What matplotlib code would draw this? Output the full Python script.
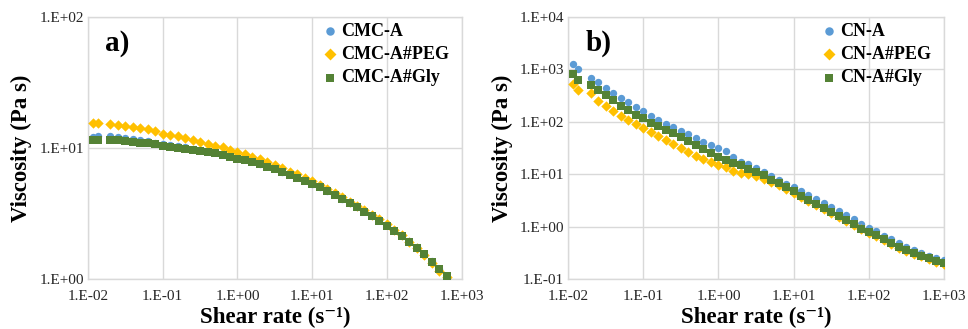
import numpy as np
import matplotlib
matplotlib.use("Agg")
import matplotlib.pyplot as plt
from matplotlib.ticker import FixedLocator, FuncFormatter, NullLocator

# shear rate (s-1), common to both samples
shear = [0.0117, 0.0136, 0.02, 0.0251, 0.0316, 0.0398, 0.0501, 0.0631, 0.0794,
         0.1, 0.126, 0.158, 0.2, 0.251, 0.316, 0.398, 0.501, 0.631, 0.794,
         1.0, 1.26, 1.58, 2.0, 2.51, 3.16, 3.98, 5.01, 6.31, 7.94,
         10.0, 12.6, 15.8, 20.0, 25.1, 31.6, 39.8, 50.1, 63.1, 79.4,
         100.0, 126, 158, 200, 251, 316, 398, 501, 631, 794, 1000]

# a) CMC samples (48 points, up to 631 s-1)
cmc_a = [12.1, 12.3, 12.3, 12.1, 11.9, 11.7, 11.5, 11.3, 11.0, 10.8, 10.5, 10.4,
         10.2, 9.9, 9.7, 9.5, 9.3, 9.0, 8.7, 8.5, 8.2, 7.9, 7.6, 7.3, 7.0, 6.6,
         6.3, 6.0, 5.7, 5.3, 5.04, 4.72, 4.43, 4.10, 3.83, 3.55, 3.29, 3.04,
         2.80, 2.57, 2.35, 2.14, 1.94, 1.75, 1.56, 1.37, 1.19, 1.02]
cmc_peg = [15.5, 15.5, 15.2, 15.1, 14.7, 14.5, 14.2, 13.9, 13.5, 12.9, 12.6, 12.3,
           11.9, 11.5, 11.1, 10.8, 10.4, 10.1, 9.7, 9.3, 9.0, 8.6, 8.2, 7.8, 7.4,
           7.0, 6.6, 6.3, 5.9, 5.57, 5.22, 4.90, 4.56, 4.23, 3.89, 3.61, 3.34,
           3.10, 2.85, 2.61, 2.38, 2.15, 1.93, 1.73, 1.52, 1.33, 1.15, 1.03]
cmc_gly = [11.6, 11.6, 11.6, 11.5, 11.4, 11.2, 11.0, 10.9, 10.7, 10.4, 10.2, 10.0,
           9.8, 9.7, 9.5, 9.3, 9.1, 8.8, 8.5, 8.3, 8.1, 7.8, 7.5, 7.2, 6.9, 6.6,
           6.2, 5.9, 5.6, 5.3, 5.0, 4.70, 4.40, 4.08, 3.80, 3.52, 3.27, 3.03,
           2.79, 2.55, 2.34, 2.13, 1.93, 1.72, 1.54, 1.36, 1.19, 1.05]

# b) CN samples (50 points)
cn_a = [1256, 1035, 700, 579, 452, 363, 287, 238, 191, 160, 130, 109, 91.8, 78.2,
        67.6, 57.5, 49.0, 41.7, 36.5, 31.6, 27.7, 21.0, 17.4, 15.5, 13.0, 11.0,
        9.1, 7.9, 6.6, 5.6, 4.8, 4.0, 3.4, 2.8, 2.4, 2.0, 1.65, 1.37, 1.13,
        0.935, 0.807, 0.668, 0.577, 0.484, 0.412, 0.361, 0.317, 0.274, 0.251, 0.227]
cn_peg = [522, 414, 363, 248, 199, 162, 132, 108, 89.3, 74.9, 63.8, 53.5, 45.6,
          38.2, 32.1, 26.9, 22.6, 19.5, 17.1, 15.2, 13.6, 11.7, 10.7, 10.1, 9.1,
          8.1, 7.1, 6.2, 5.2, 4.4, 3.7, 3.1, 2.6, 2.18, 1.83, 1.54, 1.29, 1.07,
          0.90, 0.75, 0.65, 0.55, 0.46, 0.39, 0.34, 0.30, 0.27, 0.24, 0.21, 0.19]
cn_gly = [811, 623, 500, 402, 323, 259, 205, 172, 138, 116, 96, 81.7, 69.6, 60.1,
          52.0, 43.6, 36.1, 30.3, 25.0, 21.6, 18.7, 16.6, 14.8, 12.8, 11.0, 9.5,
          7.8, 6.7, 5.6, 4.7, 3.9, 3.2, 2.75, 2.31, 1.94, 1.61, 1.33, 1.11, 0.92,
          0.80, 0.68, 0.57, 0.48, 0.41, 0.356, 0.313, 0.278, 0.247, 0.223, 0.202]

BLUE = "#5B9BD5"
GOLD = "#FFC000"
GREEN = "#548235"
GRID = "#d9d9d9"
SERIF = ["Liberation Serif", "DejaVu Serif"]

plt.rcParams["font.family"] = SERIF


def sci(v, pos):
    return "1.E{:+03d}".format(int(round(np.log10(v))))


def style_axes(ax, ylo, yhi, tag):
    ax.set_xscale("log")
    ax.set_yscale("log")
    ax.set_xlim(1e-2, 1e3)
    ax.set_ylim(ylo, yhi)
    ax.xaxis.set_major_locator(FixedLocator([10.0 ** k for k in range(-2, 4)]))
    ax.yaxis.set_major_locator(FixedLocator([10.0 ** k for k in range(int(np.log10(ylo)), int(np.log10(yhi)) + 1)]))
    ax.xaxis.set_minor_locator(NullLocator())
    ax.yaxis.set_minor_locator(NullLocator())
    ax.xaxis.set_major_formatter(FuncFormatter(sci))
    ax.yaxis.set_major_formatter(FuncFormatter(sci))
    ax.tick_params(length=0, labelsize=11, labelcolor="#262626")
    ax.tick_params(axis="x", pad=8)
    ax.tick_params(axis="y", pad=3)
    ax.grid(True, color=GRID, linewidth=1)
    ax.set_axisbelow(True)
    for s in ax.spines.values():
        s.set_color(GRID)
        s.set_linewidth(1)
    ax.set_xlabel("Shear rate (s\u207b\u00b9)", fontsize=16.5, fontweight="bold", labelpad=3)
    ax.set_ylabel("Viscosity (Pa s)", fontsize=16.5, fontweight="bold", labelpad=5)
    ax.text(0.045, 0.90, tag, transform=ax.transAxes, fontsize=21,
            fontweight="bold", va="center", ha="left")


fig = plt.figure(figsize=(9.68, 3.29), dpi=100)
ax1 = fig.add_axes([0.0909, 0.152, 0.386, 0.796])
ax2 = fig.add_axes([0.587, 0.152, 0.388, 0.796])

n = len(cmc_a)
ax1.scatter(shear[:n], cmc_a, s=28, marker="o", color=BLUE, label="CMC-A", zorder=3, linewidths=0)
ax1.scatter(shear[:n], cmc_peg, s=28, marker="D", color=GOLD, label="CMC-A#PEG", zorder=3, linewidths=0)
ax1.scatter(shear[:n], cmc_gly, s=28, marker="s", color=GREEN, label="CMC-A#Gly", zorder=3, linewidths=0)
style_axes(ax1, 1, 100, "a)")

ax2.scatter(shear, cn_a, s=28, marker="o", color=BLUE, label="CN-A", zorder=3, linewidths=0)
ax2.scatter(shear, cn_peg, s=28, marker="D", color=GOLD, label="CN-A#PEG", zorder=3, linewidths=0)
ax2.scatter(shear, cn_gly, s=28, marker="s", color=GREEN, label="CN-A#Gly", zorder=3, linewidths=0)
style_axes(ax2, 0.1, 1e4, "b)")

for ax in (ax1, ax2):
    ax.legend(loc="upper right", bbox_to_anchor=(1.0, 1.027), frameon=False,
              prop={"family": SERIF, "weight": "bold", "size": 13},
              handletextpad=0.1, labelspacing=0.35, borderaxespad=0.3,
              handlelength=1.0, markerscale=1.15)

fig.savefig("out.png", dpi=100)
